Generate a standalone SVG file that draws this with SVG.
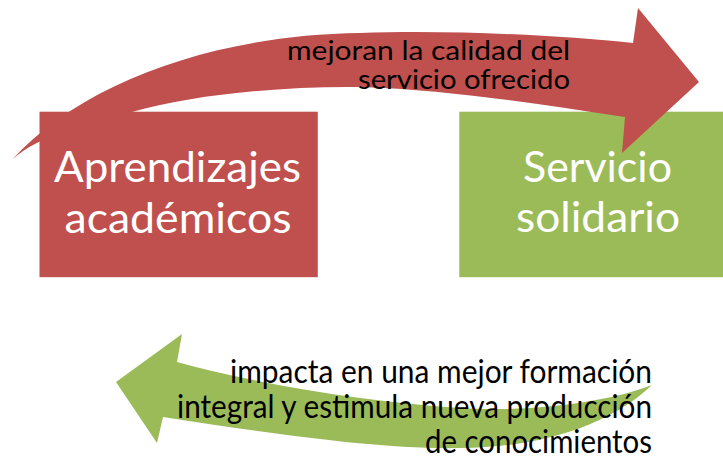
<svg xmlns="http://www.w3.org/2000/svg" width="723" height="460" viewBox="0 0 723 460">
  <style>
    .box-red { fill: #C0504D; }
    .box-green { fill: #9BBB59; }
    .arrow-red { fill: #C0504D; }
    .arrow-green { fill: #9BBB59; }
    .node-text { font-family: Lato, "Open Sans", sans-serif; font-size: 42px; fill: #FFFFFF; }
    .label { font-family: Lato, "Open Sans", sans-serif; fill: #000000; }
    .label-top { font-size: 27px; }
    .label-bottom { font-size: 32px; }
  </style>
  <rect width="723" height="460" fill="#FFFFFF"/>
  <g id="node-aprendizajes">
    <rect class="box-red" x="39.5" y="111.7" width="278.3" height="165.5"/>
    <text class="node-text" x="54" y="182" textLength="247" lengthAdjust="spacingAndGlyphs">Aprendizajes</text>
    <text class="node-text" x="64.5" y="233" textLength="227" lengthAdjust="spacingAndGlyphs">académicos</text>
  </g>
  <g id="node-servicio">
    <rect class="box-green" x="459.3" y="111.7" width="278" height="165.5"/>
    <text class="node-text" x="523" y="182" textLength="149" lengthAdjust="spacingAndGlyphs">Servicio</text>
    <text class="node-text" x="516" y="232" textLength="164" lengthAdjust="spacingAndGlyphs">solidario</text>
  </g>
  <g id="connectors">
    <g id="edge-aprendizajes-servicio">
      <path class="arrow-red" d="M12.7,159 C80,85 210,35 360,33 C450,30 560,35 633,43 L638,8 L699,82 L622,153 L625,117 C540,104 450,90 360,87 C280,86 190,95 132,112 C90,122 40,135 12.7,159 Z"/>
      <text class="label label-top" x="287" y="60" textLength="283" lengthAdjust="spacingAndGlyphs">mejoran la calidad del</text>
      <text class="label label-top" x="358" y="89" textLength="212" lengthAdjust="spacingAndGlyphs">servicio ofrecido</text>
    </g>
    <g id="edge-servicio-aprendizajes">
      <path class="arrow-green" d="M652,385 C600,405 520,412 460,408 C370,402 260,385 177,362 L182,334 L116,382 L157,443 L163,417 C260,432 380,450 460,448 C540,448 610,425 652,385 Z"/>
      <text class="label label-bottom" x="230" y="383" textLength="422" lengthAdjust="spacingAndGlyphs">impacta en una mejor formación</text>
      <text class="label label-bottom" x="177" y="418" textLength="475" lengthAdjust="spacingAndGlyphs">integral y estimula nueva producción</text>
      <text class="label label-bottom" x="425" y="453" textLength="227" lengthAdjust="spacingAndGlyphs">de conocimientos</text>
    </g>
  </g>
</svg>
